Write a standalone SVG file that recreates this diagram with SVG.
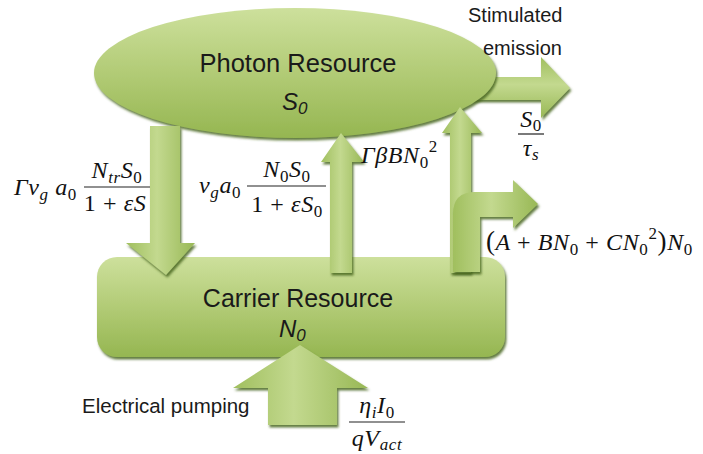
<svg xmlns="http://www.w3.org/2000/svg" width="703" height="454" viewBox="0 0 703 454">
<defs>
<linearGradient id="gv" x1="0" y1="0" x2="0" y2="1">
<stop offset="0" stop-color="#cde09c"/>
<stop offset="0.55" stop-color="#afc972"/>
<stop offset="1" stop-color="#95b651"/>
</linearGradient>
<linearGradient id="gh" x1="0" y1="0" x2="1" y2="0">
<stop offset="0" stop-color="#a0bf5e"/>
<stop offset="0.45" stop-color="#c3d98f"/>
<stop offset="1" stop-color="#98b855"/>
</linearGradient>
<linearGradient id="gr" x1="0" y1="0" x2="0" y2="1">
<stop offset="0" stop-color="#a0bf5e"/>
<stop offset="0.45" stop-color="#c3d98f"/>
<stop offset="1" stop-color="#98b855"/>
</linearGradient>
<filter id="sh" x="-10%" y="-10%" width="120%" height="130%">
<feDropShadow dx="1.5" dy="2.5" stdDeviation="1.2" flood-color="#4a6620" flood-opacity="0.85"/>
</filter>
</defs>
<style>
.sans{font-family:"Liberation Sans","Open Sans",sans-serif;fill:#1a1a1a}
.m{font-family:"Liberation Serif","DejaVu Serif",serif;font-style:italic;font-size:24px;letter-spacing:0.6px;fill:#111}
.n{font-style:normal}
.s{font-size:17px}
.fl{stroke:#222;stroke-width:1.2}
.arrV{fill:url(#gh);filter:url(#sh)}
.arrH{fill:url(#gr);filter:url(#sh)}
</style>
<rect width="703" height="454" fill="#fff"/>

<g id="connectors">
<path id="a-stim" class="arrH" d="M470,77 L541,77 L541,57 L570,88 L541,118 L541,100 L470,100 Z"/>
</g>

<g id="photon">
<ellipse cx="295" cy="73" rx="201" ry="65" fill="url(#gv)" filter="url(#sh)"/>
<text class="sans" x="298" y="72" font-size="25.5" text-anchor="middle">Photon Resource</text>
<text class="sans" x="282" y="110" font-size="24" font-style="italic">S<tspan font-size="17" dy="4">0</tspan></text>
</g>

<g id="carrier">
<rect x="97" y="257" width="408" height="100" rx="20" fill="url(#gv)" filter="url(#sh)"/>
<text class="sans" x="298" y="307" font-size="25" text-anchor="middle">Carrier Resource</text>
<text class="sans" x="279" y="337" font-size="24" font-style="italic">N<tspan font-size="17" dy="4">0</tspan></text>
</g>

<g id="connectors-front">
<path id="a-gain" class="arrV" d="M150,126 L180,126 L180,243 L195,243 L166,275 L126,243 L150,243 Z"/>
<path id="a-abs" class="arrV" d="M330,273 L330,162 L321,162 L341,133 L364,162 L352,162 L352,273 Z"/>
<path id="a-spont" class="arrV" d="M450,273 L450,133 L442,133 L460,107 L482,133 L471,133 L471,273 Z"/>
<path id="a-loss" class="arrV" d="M453,272 L453,214 Q453,192 475,192 L513,192 L513,180 L538,204 L513,228 L513,217 L480,217 L480,272 Z"/>
<path id="a-pump" class="arrV" d="M268,425 L268,388 L233,388 L300,345 L368,388 L337,388 L337,425 Z"/>
</g>

<g id="labels">
<text class="sans" x="468" y="22" font-size="20">Stimulated</text>
<text class="sans" x="483" y="55" font-size="20">emission</text>
<text class="sans" x="82" y="413" font-size="20.5">Electrical pumping</text>

<text class="m" x="14" y="195">Γv<tspan class="s" dy="5">g</tspan><tspan dy="-5"> a</tspan><tspan class="s n" dy="5">0</tspan></text>
<text class="m" x="117" y="178" text-anchor="middle">N<tspan class="s" dy="5">tr</tspan><tspan dy="-5">S</tspan><tspan class="s n" dy="5">0</tspan></text>
<line class="fl" x1="84" y1="187" x2="150" y2="187"/>
<text class="m" x="115" y="211" text-anchor="middle"><tspan class="n">1 + </tspan> εS</text>

<text class="m" x="199" y="193">v<tspan class="s" dy="5">g</tspan><tspan dy="-5">a</tspan><tspan class="s n" dy="5">0</tspan></text>
<text class="m" x="287" y="177" text-anchor="middle">N<tspan class="s n" dy="5">0</tspan><tspan dy="-5">S</tspan><tspan class="s n" dy="5">0</tspan></text>
<line class="fl" x1="247" y1="186" x2="326" y2="186"/>
<text class="m" x="287" y="212" text-anchor="middle"><tspan class="n">1 + </tspan> εS<tspan class="s n" dy="5">0</tspan></text>

<text class="m" x="361" y="163">ΓβBN<tspan class="s n" dy="5">0</tspan><tspan class="s n" dy="-16">2</tspan></text>

<text class="m" x="531" y="127" text-anchor="middle">S<tspan class="s n" dy="4">0</tspan></text>
<line class="fl" x1="518" y1="134" x2="544" y2="134"/>
<text class="m" x="531" y="156" text-anchor="middle">τ<tspan class="s" dy="4">s</tspan></text>

<text class="m" x="486" y="250"><tspan class="n" font-size="27">(</tspan>A <tspan class="n">+ </tspan>BN<tspan class="s n" dy="5">0</tspan><tspan dy="-5" class="n"> + </tspan>CN<tspan class="s n" dy="5">0</tspan><tspan class="s n" dy="-16">2</tspan><tspan dy="11" class="n" font-size="27">)</tspan>N<tspan class="s n" dy="5">0</tspan></text>

<text class="m" x="377" y="413" text-anchor="middle">η<tspan class="s" dy="5">i</tspan><tspan dy="-5">I</tspan><tspan class="s n" dy="5">0</tspan></text>
<line class="fl" x1="349" y1="422" x2="405" y2="422"/>
<text class="m" x="377" y="446" text-anchor="middle">qV<tspan class="s" dy="4">act</tspan></text>
</g>
</svg>
